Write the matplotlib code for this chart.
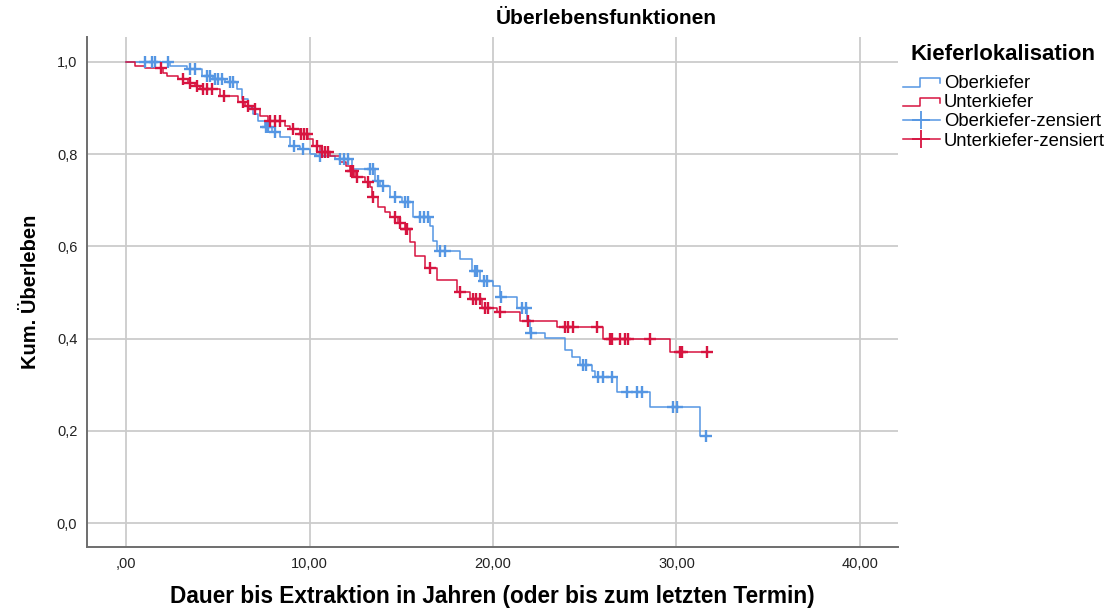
import numpy as np
import matplotlib
matplotlib.use("Agg")
import matplotlib.pyplot as plt
from matplotlib.lines import Line2D
from matplotlib.legend_handler import HandlerBase

plt.rcParams.update({
    "font.family": ["Liberation Sans", "DejaVu Sans"],
    "font.size": 10,
})

# Kaplan-Meier step data (years, cumulative survival)
ober_times = [0, 2.40, 3.32, 4.14, 4.74, 5.40, 6.05, 6.32, 6.65, 6.92, 7.19, 7.57,
              7.96, 8.39, 8.94, 9.48, 10.03, 10.35, 11.39, 12.32, 13.57, 13.84, 14.39,
              15.04, 15.64, 16.57, 16.73, 16.95, 18.20, 18.86, 19.29, 20.00, 20.38,
              21.31, 21.85, 22.02, 22.83, 23.90, 24.30, 24.74, 25.40, 25.56, 26.76,
              28.56, 31.28, 31.65]
ober_surv = [1.0, 0.991, 0.985, 0.970, 0.963, 0.957, 0.941, 0.920, 0.902, 0.887, 0.872,
             0.859, 0.848, 0.837, 0.817, 0.811, 0.800, 0.796, 0.790, 0.767, 0.741, 0.730,
             0.707, 0.696, 0.663, 0.643, 0.611, 0.589, 0.572, 0.546, 0.524, 0.513, 0.491,
             0.467, 0.441, 0.413, 0.402, 0.376, 0.359, 0.343, 0.330, 0.317, 0.283, 0.252,
             0.189, 0.189]
ober_cens = [1.04, 1.40, 1.60, 2.29, 3.49, 3.76, 4.41, 4.58, 4.85, 5.01, 5.23, 5.67,
             5.83, 7.63, 7.74, 8.12, 9.16, 9.65, 10.57, 11.66, 11.88, 12.10, 13.30, 13.45,
             13.73, 14.00, 14.66, 15.20, 15.37, 16.02, 16.24, 16.46, 17.11, 17.38, 19.02,
             19.13, 19.51, 19.67, 20.45, 21.58, 21.80, 22.07, 24.90, 25.07, 25.72, 26.00,
             26.49, 27.30, 27.85, 28.12, 29.81, 30.03, 31.61]

unter_times = [0, 0.49, 1.04, 2.02, 2.23, 2.83, 3.38, 3.76, 4.03, 5.12, 6.10, 6.49,
               6.87, 7.30, 7.74, 8.66, 8.94, 9.48, 9.92, 10.19, 10.57, 11.12, 11.66,
               11.99, 12.21, 12.48, 13.02, 13.30, 13.41, 13.73, 14.11, 14.39, 14.82,
               15.20, 15.48, 15.75, 16.29, 16.95, 18.04, 18.75, 19.40, 20.22, 21.47,
               23.49, 26.00, 29.65, 31.66]
unter_surv = [1.0, 0.991, 0.987, 0.976, 0.970, 0.963, 0.954, 0.948, 0.941, 0.926, 0.913,
              0.904, 0.898, 0.883, 0.872, 0.861, 0.854, 0.843, 0.833, 0.817, 0.804, 0.796,
              0.783, 0.774, 0.763, 0.750, 0.739, 0.728, 0.707, 0.685, 0.674, 0.663, 0.650,
              0.637, 0.609, 0.578, 0.554, 0.528, 0.500, 0.485, 0.467, 0.457, 0.437, 0.426,
              0.400, 0.370, 0.370]
unter_cens = [1.90, 3.11, 3.49, 3.87, 4.20, 4.41, 4.69, 5.34, 6.38, 6.65, 7.03, 7.85,
              8.12, 8.39, 9.10, 9.55, 9.70, 9.86, 10.41, 10.70, 10.84, 11.01, 12.25, 12.35,
              12.59, 13.19, 13.46, 14.66, 14.93, 15.25, 15.31, 16.57, 18.20, 18.90, 19.10,
              19.30, 19.56, 19.73, 20.38, 21.90, 23.92, 24.09, 24.36, 25.67, 26.38, 26.49,
              26.92, 27.19, 27.36, 28.56, 30.19, 30.30, 31.66]

BLUE = "#5596E3"
RED = "#D71440"
GRID = "#CBCBCB"


def surv_at(times, surv, t):
    idx = np.searchsorted(times, t, side="right") - 1
    return np.asarray(surv)[idx]


class StepHandler(HandlerBase):
    def create_artists(self, legend, orig_handle, xdescent, ydescent,
                       width, height, fontsize, trans):
        x0, y0 = -xdescent, -ydescent
        xs = [x0, x0 + 0.45 * width, x0 + 0.45 * width, x0 + width, x0 + width]
        ys = [y0 + 0.1 * height, y0 + 0.1 * height, y0 + 0.75 * height,
              y0 + 0.75 * height, y0 + 0.35 * height]
        ln = Line2D(xs, ys, color=orig_handle.get_color(), lw=1.1)
        ln.set_transform(trans)
        return [ln]


fig = plt.figure(figsize=(11.07, 6.13), dpi=100)
ax = fig.add_axes([0.0786, 0.1077, 0.7325, 0.832])

for times, surv, cens, col in [(ober_times, ober_surv, ober_cens, BLUE),
                               (unter_times, unter_surv, unter_cens, RED)]:
    ax.step(times, surv, where="post", color=col, lw=1.1, zorder=3)
    ax.plot(cens, surv_at(times, surv, cens), ls="none", marker="+",
            ms=8, mew=1.7, color=col, zorder=4)

ax.set_xlim(-2.13, 42.07)
ax.set_ylim(-0.052, 1.054)
ax.set_xticks([0, 10, 20, 30, 40])
ax.set_xticklabels([",00", "10,00", "20,00", "30,00", "40,00"])
ax.set_yticks([0, 0.2, 0.4, 0.6, 0.8, 1.0])
ax.set_yticklabels(["0,0", "0,2", "0,4", "0,6", "0,8", "1,0"])
ax.tick_params(length=0, labelsize=10.5, colors="#222222")
ax.tick_params(axis="x", pad=7)
ax.tick_params(axis="y", pad=7)
ax.grid(True, color=GRID, lw=1.3)
ax.set_axisbelow(True)
for side in ["top", "right"]:
    ax.spines[side].set_visible(False)
for side in ["left", "bottom"]:
    ax.spines[side].set_color("#6E6E6E")
    ax.spines[side].set_linewidth(1.4)

fig.text(0.4447, 1 - 597 / 613,
         "Dauer bis Extraktion in Jahren (oder bis zum letzten Termin)",
         ha="center", va="center", fontsize=16.3, fontweight="bold")
fig.text(30 / 1107, 1 - 292 / 613, "Kum. Überleben", ha="center", va="center",
         rotation=90, fontsize=14.5, fontweight="bold")
fig.text(0.548, 0.970, "Überlebensfunktionen", ha="center", va="center",
         fontsize=15, fontweight="bold")

# legend title placed by hand, SPSS leaves a wide gap below it
fig.text(910 / 1107, 1 - 55 / 613, "Kieferlokalisation", ha="left", va="center",
         fontsize=16, fontweight="bold")
h_ober = Line2D([], [], color=BLUE, lw=1.1)
h_unter = Line2D([], [], color=RED, lw=1.1)
h_ober_c = Line2D([], [], color=BLUE, lw=1.1, marker="+", ms=13, mew=1.3)
h_unter_c = Line2D([], [], color=RED, lw=1.1, marker="+", ms=13, mew=1.3)
leg = fig.legend([h_ober, h_unter, h_ober_c, h_unter_c],
                 ["Oberkiefer", "Unterkiefer", "Oberkiefer-zensiert", "Unterkiefer-zensiert"],
                 handler_map={h_ober: StepHandler(), h_unter: StepHandler()},
                 loc="upper left", bbox_to_anchor=(903 / 1107, 1 - 75 / 613),
                 frameon=False, fontsize=13.3, handlelength=2.0, handletextpad=0.2,
                 labelspacing=0.12, borderaxespad=0.0, borderpad=0.0, numpoints=1)

fig.savefig("out.png", dpi=100)
